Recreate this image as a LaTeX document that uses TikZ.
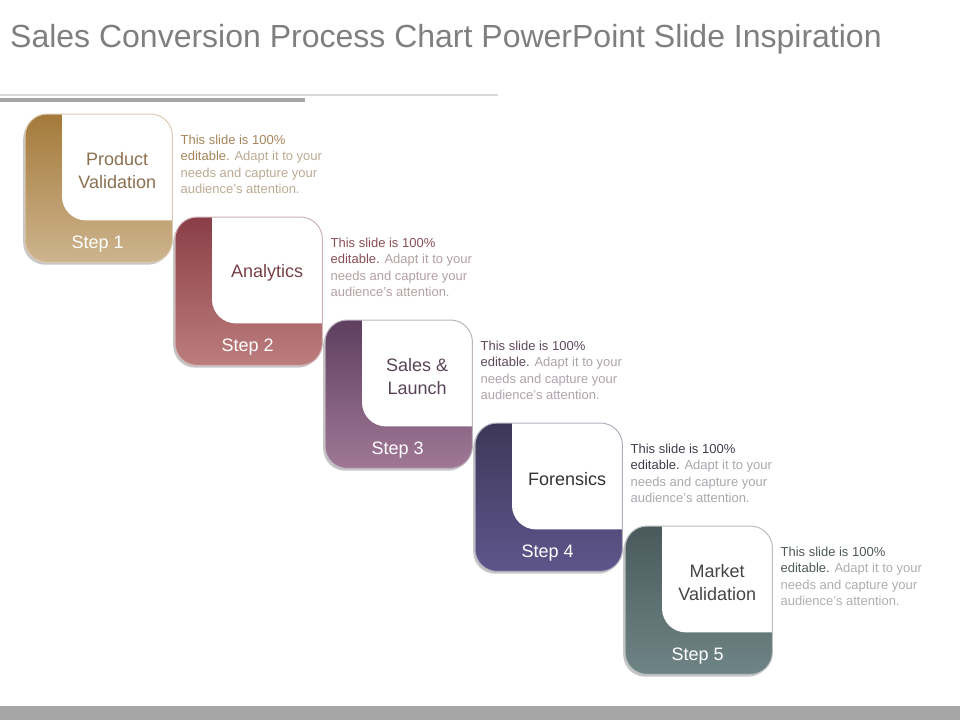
\documentclass[tikz,border=0pt]{standalone}
\usepackage{fontspec}
\setmainfont{Liberation Sans}
\usetikzlibrary{positioning,shadows}

\definecolor{top1}{HTML}{A47A3A}\definecolor{bot1}{HTML}{CDB48E}
\definecolor{lbl1}{HTML}{8C7050}\definecolor{dk1}{HTML}{A5845A}\definecolor{lt1}{HTML}{BBAA93}
\definecolor{top2}{HTML}{8A3E47}\definecolor{bot2}{HTML}{BC7D7D}
\definecolor{lbl2}{HTML}{7A4048}\definecolor{dk2}{HTML}{8A4F55}\definecolor{lt2}{HTML}{B3A0A2}
\definecolor{top3}{HTML}{5E3F5F}\definecolor{bot3}{HTML}{A07896}
\definecolor{lbl3}{HTML}{5A4357}\definecolor{dk3}{HTML}{5E4A5C}\definecolor{lt3}{HTML}{ADA3AB}
\definecolor{top4}{HTML}{3D3859}\definecolor{bot4}{HTML}{5F558C}
\definecolor{lbl4}{HTML}{333333}\definecolor{dk4}{HTML}{3E3E4A}\definecolor{lt4}{HTML}{A8A8AE}
\definecolor{top5}{HTML}{4A5A5C}\definecolor{bot5}{HTML}{6F8486}
\definecolor{lbl5}{HTML}{454545}\definecolor{dk5}{HTML}{4F5859}\definecolor{lt5}{HTML}{ABAFB0}
\definecolor{titlegray}{HTML}{7F7F7F}
\definecolor{bargray}{HTML}{A6A6A6}
\definecolor{rulegray}{HTML}{D9D9D9}

\tikzset{
  card/.style 2 args={rectangle, rounded corners=22pt, minimum width=147pt, minimum height=148pt,
    inner sep=0, top color=#1, bottom color=#2,
    drop shadow={shadow xshift=-2pt, shadow yshift=-2.5pt, opacity=.45}},
  boxlbl/.style={font=\fontsize{18}{23}\selectfont, align=center, inner sep=0},
  steplbl/.style={font=\fontsize{18}{21}\selectfont, text=white, inner sep=0},
  desc/.style={font=\fontsize{13}{16.3}\selectfont, align=left, inner sep=0, anchor=north west},
}

\begin{document}
\begin{tikzpicture}[x=1pt, y=-1pt]
  \useasboundingbox (0,0) rectangle (960,720);

  \node[anchor=base west, inner sep=0, text=titlegray, font=\fontsize{32}{36}\selectfont]
    (title) at (10,47) {Sales Conversion Process Chart PowerPoint Slide Inspiration};
  \coordinate (r1) at (0,95);
  \coordinate (r2) at (0,100);
  \draw[rulegray, line width=2pt] (r1) -- ++(498,0);
  \draw[bargray, line width=4pt] (r2) -- ++(305,0);
  \fill[bargray] (0,706) rectangle (960,720);

  \foreach \i/\lbl [evaluate=\i as \n using int(\i+1)] in
    {0/{Product\\Validation}, 1/Analytics, 2/{Sales \&\\Launch},
     3/Forensics, 4/{Market\\Validation}}
  {
    \node[card={top\n}{bot\n}, anchor=north west] (c\n) at (25+150*\i, 114+103*\i) {};
    \begin{scope}
      \clip[rounded corners=22pt] (c\n.north west) rectangle (c\n.south east);
      \fill[white, rounded corners=24pt] ([xshift=37pt, yshift=40pt]c\n.north west)
        rectangle ([xshift=40pt, yshift=42pt]c\n.south east);
    \end{scope}
    \draw[top\n!40!white, line width=1pt, rounded corners=22pt] (c\n.north west) rectangle (c\n.south east);
    \node[boxlbl, text=lbl\n] (t\n) at ([xshift=18.5pt, yshift=18pt]c\n.center) {\lbl};
    \node[steplbl] (s\n) at ([xshift=-1pt, yshift=18pt]c\n.south) {Step \n};
    \node[desc, text=lt\n] (d\n) at ([xshift=8pt, yshift=-21pt]c\n.north east)
      {\textcolor{dk\n}{This slide is 100\%}\\\textcolor{dk\n}{editable.} Adapt it to your\\needs and capture your\\audience’s attention.};
  }
\end{tikzpicture}
\end{document}
